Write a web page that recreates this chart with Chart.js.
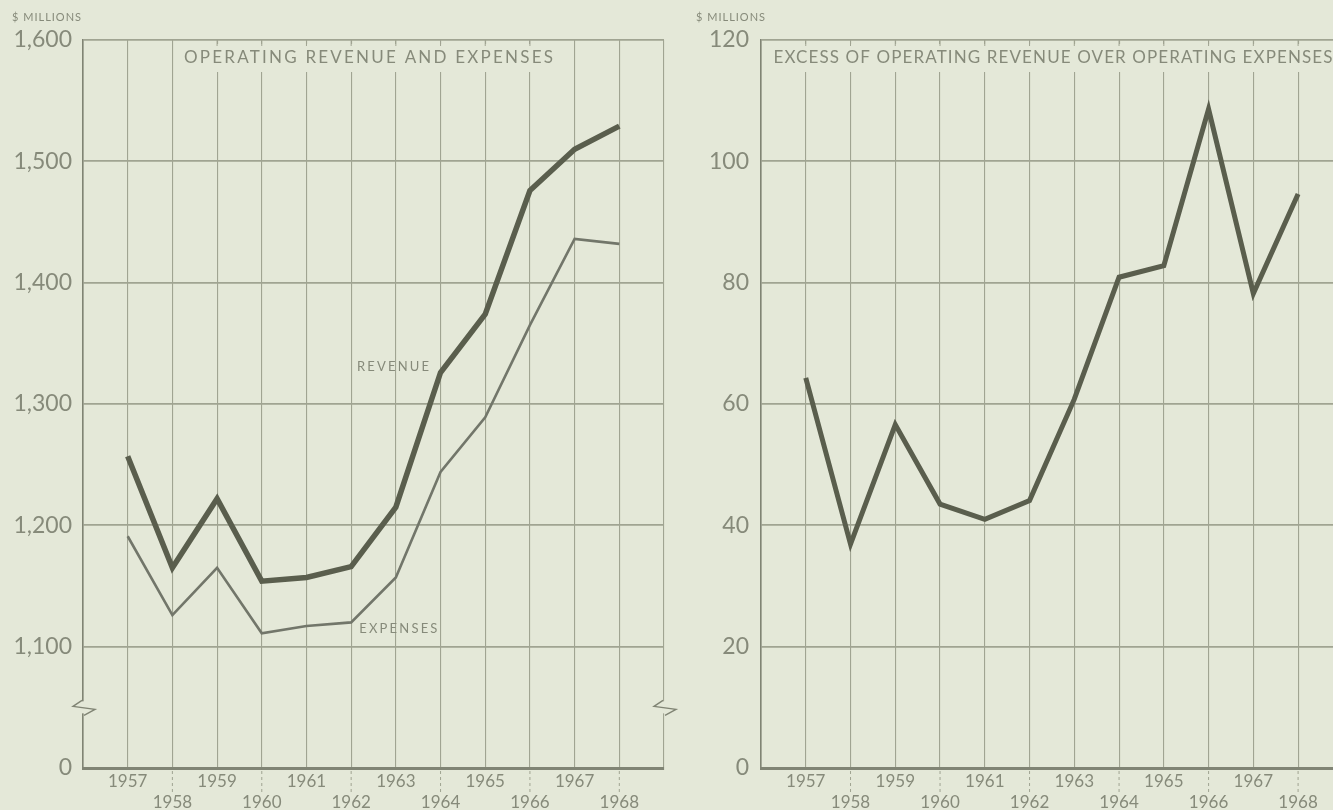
<!DOCTYPE html>
<html>
<head>
<meta charset="utf-8">
<script src="https://cdn.jsdelivr.net/npm/chart.js@4.4.1/dist/chart.umd.min.js"></script>
<style>
  html, body { margin: 0; padding: 0; background: #e4e8d8; }
  body { width: 1333px; height: 810px; position: relative; overflow: hidden; }
  canvas { position: absolute; top: 0; }
  #left { left: 0; }
  #right { left: 680px; }
</style>
</head>
<body>
<canvas id="left" width="680" height="810"></canvas>
<canvas id="right" width="653" height="810"></canvas>
<script>
// ---- data ----
const years = [1957, 1958, 1959, 1960, 1961, 1962, 1963, 1964, 1965, 1966, 1967, 1968];
const revenue = [1257, 1165, 1222, 1154, 1157, 1166, 1215, 1326, 1374, 1476, 1510, 1529];
const expenses = [1191, 1126, 1165, 1111, 1117, 1120, 1157, 1244, 1289, 1365, 1436, 1432];
const excess = [64.3, 36.9, 56.6, 43.5, 41.0, 44.1, 60.8, 80.9, 82.8, 108.6, 78.2, 94.6];
const leftTicks = [1000, 1100, 1200, 1300, 1400, 1500, 1600];
const leftTickLabels = ['0', '1,100', '1,200', '1,300', '1,400', '1,500', '1,600'];
const rightTicks = [0, 20, 40, 60, 80, 100, 120];
const rightTickLabels = ['0', '20', '40', '60', '80', '100', '120'];

const BG = '#e4e8d8';
const TEXT = '#868a7a';
const GRID = '#a0a492';
const AXIS = '#80847450';
const AXISC = '#808474';
const LINE = '#5a5e4d';
const LINE2 = '#72766a';
const FONT = 'Lato, "DejaVu Sans", sans-serif';

const pts = arr => years.map((yr, i) => ({ x: yr, y: arr[i] }));

function spacedText(ctx, text, x, y, spacing, align) {
  ctx.save();
  ctx.letterSpacing = spacing + 'px';
  const w = ctx.measureText(text).width - spacing;
  let sx = x;
  if (align === 'center') sx = x - w / 2;
  ctx.textAlign = 'left';
  ctx.fillText(text, sx, y);
  ctx.restore();
  return w;
}

const decor = {
  id: 'decor',
  afterDraw(chart, args, o) {
    const ctx = chart.ctx;
    const ca = chart.chartArea;
    const xs = chart.scales.x, ys = chart.scales.y;
    ctx.save();
    // "$ MILLIONS"
    ctx.fillStyle = TEXT;
    ctx.font = '11px ' + FONT;
    ctx.textBaseline = 'middle';
    spacedText(ctx, '$ MILLIONS', o.unitX, 17, 1, 'left');

    // title band
    ctx.font = o.titleSize + 'px ' + FONT;
    ctx.letterSpacing = '0px';
    const raw = ctx.measureText(o.title).width;
    const n = o.title.length;
    const sp = (o.titleWidth - raw) / (n - 1);
    const cx = (ca.left + ca.right) / 2 + (o.titleShift || 0);
    const l = Math.max(ca.left + 1.5, cx - o.titleWidth / 2 - 6);
    const r = Math.min(ca.right - 1, cx + o.titleWidth / 2 + 6);
    ctx.fillStyle = BG;
    ctx.fillRect(l, ca.top + 4, r - l, 28);
    ctx.strokeStyle = GRID;
    ctx.lineWidth = 1;
    for (let yr = 1957; yr <= 1969; yr++) {
      const px = xs.getPixelForValue(yr);
      if (px > l && px < r) {
        ctx.beginPath();
        ctx.moveTo(px, ca.top);
        ctx.lineTo(px, ca.top + 6);
        ctx.stroke();
      }
    }
    ctx.fillStyle = TEXT;
    ctx.textBaseline = 'middle';
    spacedText(ctx, o.title, cx, ca.top + 18, sp, 'center');

    // dashed marks below the axis at even years
    ctx.strokeStyle = GRID;
    ctx.lineWidth = 1;
    ctx.setLineDash([3, 3]);
    for (let yr = 1958; yr <= 1968; yr += 2) {
      const px = xs.getPixelForValue(yr);
      ctx.beginPath();
      ctx.moveTo(px, ca.bottom + 3);
      ctx.lineTo(px, ca.bottom + 27);
      ctx.stroke();
    }
    ctx.setLineDash([]);

    // series labels
    if (o.labels) {
      ctx.font = '13px ' + FONT;
      ctx.fillStyle = TEXT;
      ctx.textBaseline = 'middle';
      o.labels.forEach(lb => {
        spacedText(ctx, lb.text, xs.getPixelForValue(lb.x), ys.getPixelForValue(lb.y), 2.2, 'left');
      });
    }

    // axis break symbols
    if (o.breakAt != null) {
      const by = ys.getPixelForValue(o.breakAt);
      ctx.strokeStyle = AXISC;
      ctx.lineWidth = 1.4;
      [ca.left, ca.right].forEach(bx => {
        ctx.fillStyle = BG;
        ctx.fillRect(bx - 2, by - 6, 4, 12);
        ctx.beginPath();
        ctx.moveTo(bx - 1, by - 7);
        ctx.lineTo(bx - 10, by - 1);
        ctx.lineTo(bx + 12, by + 2);
        ctx.lineTo(bx + 1, by + 8);
        ctx.stroke();
      });
    }
    ctx.restore();
  }
};

function xScale(max) {
  return {
    type: 'linear', min: 1956, max: max,
    afterFit: s => { s.height = 42; },
    ticks: {
      stepSize: 1, autoSkip: false, maxRotation: 0, minRotation: 0, includeBounds: false,
      color: TEXT, padding: 3,
      font: { family: FONT, size: 17, lineHeight: 1.25 },
      callback: v => {
        const i = years.indexOf(v);
        if (i < 0) return '';
        return v % 2 ? String(v) : ['', String(v)];
      }
    },
    grid: { color: GRID, lineWidth: 1.1, drawTicks: false },
    border: { display: true, color: AXISC, width: 3 }
  };
}

function yScale(min, max, step, ticks, labels, width, pad) {
  return {
    min: min, max: max,
    afterFit: s => { s.width = width; },
    afterBuildTicks: s => { s.ticks = ticks.map(v => ({ value: v })); },
    ticks: {
      stepSize: step, color: TEXT, padding: pad,
      font: { family: FONT, size: 23 },
      callback: v => { const i = ticks.indexOf(v); return i < 0 ? '' : labels[i]; }
    },
    grid: {
      color: c => (c.tick && c.tick.value === min) ? 'rgba(0,0,0,0)' : GRID,
      lineWidth: 1.7, drawTicks: false
    },
    border: { display: true, color: AXISC, width: 1.6 }
  };
}

const common = { type: 'line', plugins: [decor] };

new Chart(document.getElementById('left'), {
  ...common,
  data: {
    datasets: [
      { label: 'Revenue', data: pts(revenue), borderColor: LINE, borderWidth: 5.5, pointRadius: 0, tension: 0 },
      { label: 'Expenses', data: pts(expenses), borderColor: LINE2, borderWidth: 2.6, pointRadius: 0, tension: 0 }
    ]
  },
  options: {
    responsive: false, animation: false, devicePixelRatio: 1,
    layout: { padding: { left: 0, right: 16, top: 40, bottom: 0 } },
    scales: {
      x: xScale(1969),
      y: yScale(1000, 1600, 100, leftTicks, leftTickLabels, 83, 11)
    },
    plugins: {
      legend: { display: false }, tooltip: { enabled: false },
      decor: {
        unitX: 12,
        title: 'OPERATING REVENUE AND EXPENSES', titleSize: 17, titleWidth: 369, titleShift: -5,
        labels: [
          { text: 'REVENUE', x: 1962.13, y: 1331 },
          { text: 'EXPENSES', x: 1962.18, y: 1115 }
        ],
        breakAt: 1050
      }
    }
  }
});

new Chart(document.getElementById('right'), {
  ...common,
  data: {
    datasets: [
      { label: 'Excess', data: pts(excess), borderColor: LINE, borderWidth: 5, pointRadius: 0, tension: 0 }
    ]
  },
  options: {
    responsive: false, animation: false, devicePixelRatio: 1,
    layout: { padding: { left: 0, right: 0, top: 40, bottom: 0 } },
    scales: {
      x: xScale(1968.78),
      y: yScale(0, 120, 20, rightTicks, rightTickLabels, 81, 12)
    },
    plugins: {
      legend: { display: false }, tooltip: { enabled: false },
      decor: {
        unitX: 16,
        title: 'EXCESS OF OPERATING REVENUE OVER OPERATING EXPENSES', titleSize: 17, titleWidth: 559, titleShift: 6,
        labels: null,
        breakAt: null
      }
    }
  }
});
</script>
</body>
</html>
